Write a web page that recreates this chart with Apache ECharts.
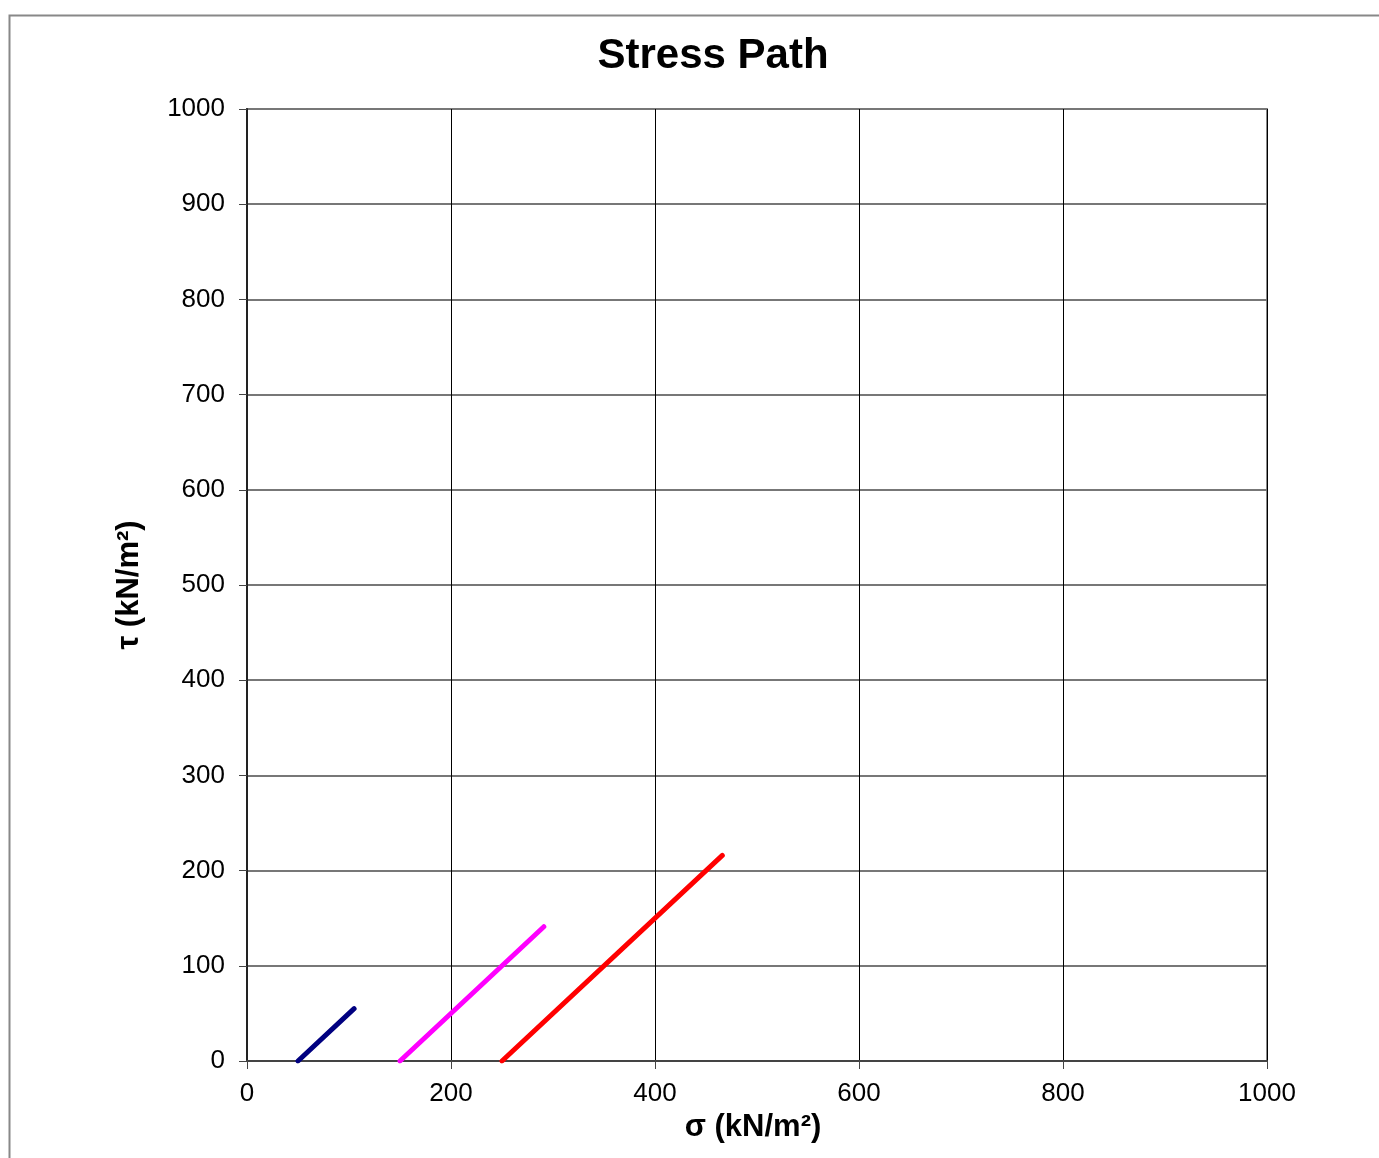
<!DOCTYPE html>
<html>
<head>
<meta charset="utf-8">
<script src="https://cdn.jsdelivr.net/npm/echarts@6/dist/echarts.min.js"></script>
<style>
html,body{margin:0;padding:0;background:#fff;}
#chart{width:1379px;height:1158px;}
</style>
</head>
<body>
<div id="chart"></div>
<script>
// Stress path data: [sigma, tau]
const pathNavy = [[50, 0], [105, 55]];
const pathMagenta = [[150, 0], [291, 141]];
const pathRed = [[250, 0], [466, 216]];
const seriesColors = ['#000080', '#FF00FF', '#FF0000'];
const titleText = 'Stress Path';
const xName = 'σ (kN/m²)';
const yName = 'τ (kN/m²)';

const chart = echarts.init(document.getElementById('chart'), null, {renderer: 'canvas'});
const font = 'Liberation Sans, Arial, sans-serif';
const mk = (data, color) => ({
  type: 'line', data: data, symbol: 'none', silent: true,
  lineStyle: {color: color, width: 5, cap: 'round'}
});
chart.setOption({
  animation: false,
  backgroundColor: '#fff',
  graphic: [{
    type: 'rect', left: 7, top: 13, shape: {width: 1500, height: 1300},
    style: {fill: 'none', stroke: '#888', lineWidth: 2}, z: -10
  }],
  title: {
    text: titleText, left: 708, textAlign: 'center', top: 30,
    textStyle: {fontFamily: font, fontSize: 42, fontWeight: 'bold', color: '#000'}
  },
  grid: {left: 247, right: 112, top: 109, bottom: 97, show: true,
         borderColor: '#888', borderWidth: 2, backgroundColor: 'transparent'},
  xAxis: {
    type: 'value', min: 0, max: 1000, interval: 200,
    name: xName, nameLocation: 'middle', nameGap: 45,
    nameTextStyle: {fontFamily: font, fontSize: 31, fontWeight: 'bold', color: '#000', padding: [0, 8, 0, 0]},
    axisLine: {lineStyle: {color: '#444', width: 2}},
    axisTick: {show: true, length: 8, lineStyle: {color: '#444'}},
    axisLabel: {fontFamily: font, fontSize: 26, color: '#000', margin: 20, formatter: v => String(v)},
    splitLine: {show: true, lineStyle: {color: '#000', width: 1}}
  },
  yAxis: {
    type: 'value', min: 0, max: 1000, interval: 100,
    name: yName, nameLocation: 'middle', nameGap: 102, nameRotate: 90,
    nameTextStyle: {fontFamily: font, fontSize: 31, fontWeight: 'bold', color: '#000'},
    axisLine: {show: true, lineStyle: {color: '#222', width: 2}},
    axisTick: {show: true, length: 8, lineStyle: {color: '#444'}},
    axisLabel: {fontFamily: font, fontSize: 26, color: '#000', margin: 22, formatter: v => String(v)},
    splitLine: {show: true, lineStyle: {color: '#777', width: 2}}
  },
  series: [
    mk(pathNavy, seriesColors[0]),
    mk(pathMagenta, seriesColors[1]),
    mk(pathRed, seriesColors[2])
  ]
});
</script>
</body>
</html>
